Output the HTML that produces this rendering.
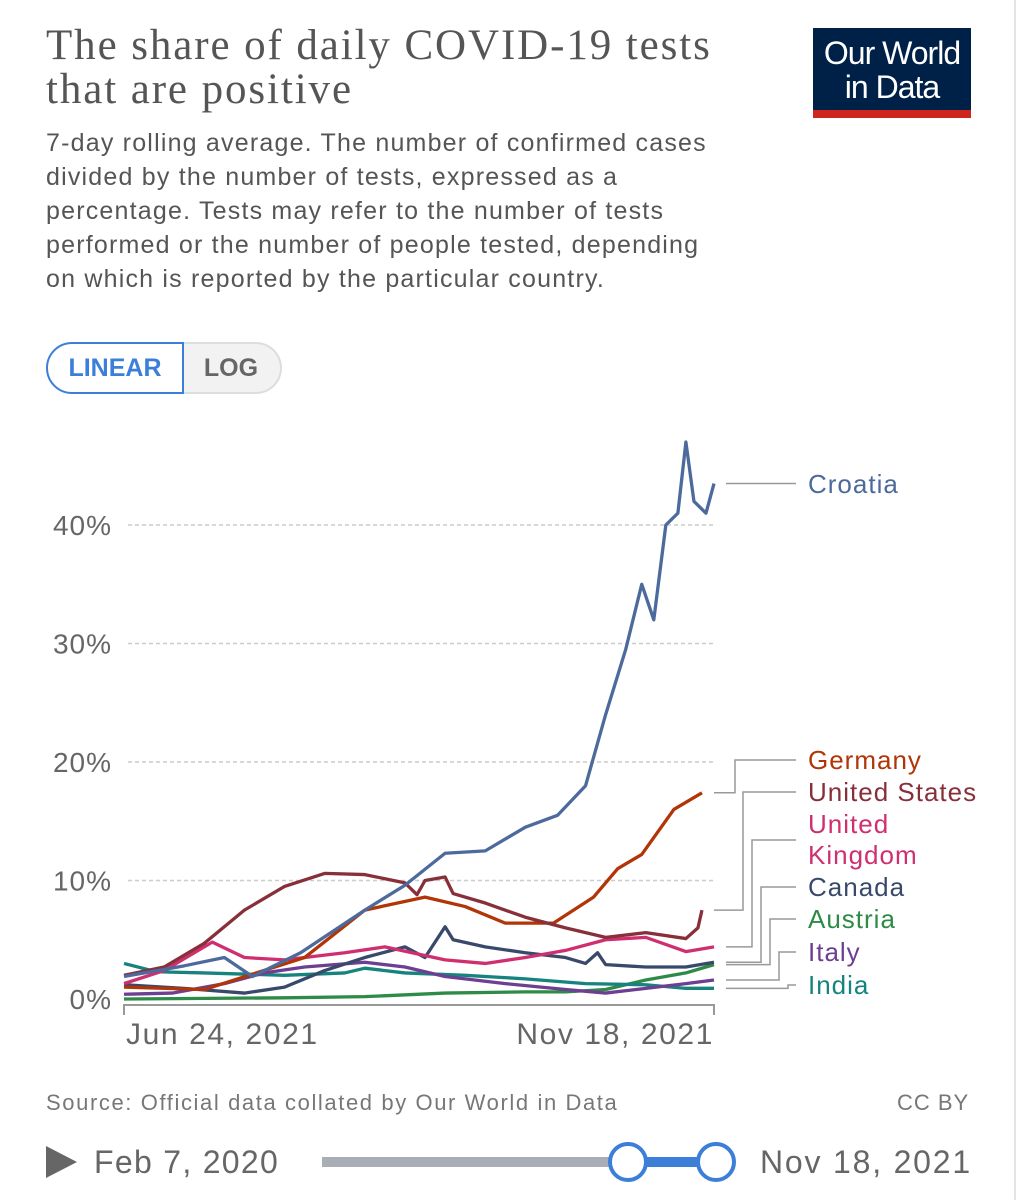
<!DOCTYPE html>
<html><head><meta charset="utf-8"><style>
body{margin:0;background:#fff;width:1016px;height:1200px;overflow:hidden;font-family:"Liberation Sans",sans-serif;position:relative}
.t{position:absolute;white-space:nowrap}
</style></head><body>
<div style="position:absolute;left:0;top:0;width:1014px;height:1200px;border-right:2px solid #e4e4e4"></div>
<div class="t" style="left:46px;top:24px;font-family:'Liberation Serif',serif;font-size:43px;line-height:44px;color:#555;letter-spacing:1.9px">The share of daily COVID-19 tests<br>that are positive</div>
<div style="position:absolute;left:813px;top:28px;width:158px;height:84px;background:#002147;color:#fff;font-size:32px;line-height:34px;text-align:center;padding-top:8px;box-sizing:border-box;letter-spacing:-1px">Our World<br>in Data</div>
<div style="position:absolute;left:813px;top:110px;width:158px;height:8px;background:#ce261e"></div>
<div class="t" style="left:46px;top:126px;font-size:25px;line-height:34px;color:#555;letter-spacing:1.2px">7-day rolling average. The number of confirmed cases<br>divided by the number of tests, expressed as a<br>percentage. Tests may refer to the number of tests<br>performed or the number of people tested, depending<br>on which is reported by the particular country.</div>
<div style="position:absolute;left:46px;top:342px;width:134px;height:48px;border:2px solid #3c7fd8;border-radius:26px 0 0 26px;color:#3c7fd8;font-size:25px;font-weight:bold;line-height:48px;text-align:center;background:#fff;z-index:2">LINEAR</div>
<div style="position:absolute;left:182px;top:342px;width:98px;height:48px;border:2px solid #ddd;border-left:none;border-radius:0 26px 26px 0;color:#666;font-size:25px;font-weight:bold;line-height:48px;text-align:center;background:#f2f2f2">LOG</div>
<svg id="chart" width="1016" height="1200" style="position:absolute;left:0;top:0"></svg>
<div class="t" style="left:46px;top:1090px;font-size:22px;color:#777;letter-spacing:1.6px">Source: Official data collated by Our World in Data</div>
<div class="t" style="left:897px;top:1090px;font-size:22px;color:#777;letter-spacing:1px">CC BY</div>
<svg width="1016" height="60" style="position:absolute;left:0;top:1133px">
<polygon points="46,13 46,45 77,29" fill="#666"/>
<text x="94" y="40" font-size="32" fill="#666" font-family="Liberation Sans" letter-spacing="1.3">Feb 7, 2020</text>
<rect x="322" y="24" width="396" height="10" fill="#a8adb6"/>
<rect x="628" y="24" width="90" height="10" fill="#3c7fd8"/>
<circle cx="628" cy="29" r="18" fill="#fff" stroke="#3c7fd8" stroke-width="4"/>
<circle cx="716" cy="29" r="18" fill="#fff" stroke="#3c7fd8" stroke-width="4"/>
<text x="760" y="40" font-size="32" fill="#666" font-family="Liberation Sans" letter-spacing="1.8">Nov 18, 2021</text>
</svg>
<script>
const yTicks=[0,10,20,30,40];
const xTickLabels=["Jun 24, 2021","Nov 18, 2021"];
const countries=["Croatia","Germany","United States","United Kingdom","Canada","Austria","Italy","India"];
const croatiaDays=[0,15,25,32,44,60,70,80,90,100,108,115,120,125,129,132,135,138,140,142,145,147];
const croatiaVals=[1.9,2.8,3.5,1.9,3.9,7.5,9.6,12.3,12.5,14.5,15.5,18,24,29.5,35,32,40,41,47,42,41,43.5];
const germanyDays=[0,20,45,60,75,85,95,107,117,123,129,137,144];
const germanyVals=[1.0,0.8,3.5,7.5,8.6,7.8,6.4,6.4,8.6,11,12.2,16,17.4];
const usDays=[0,10,20,30,40,50,60,70,73,75,80,82,90,100,110,120,130,140,143,144];
const usVals=[2.0,2.7,4.7,7.5,9.5,10.6,10.5,9.8,8.8,10,10.3,8.9,8.1,6.9,6.0,5.2,5.6,5.1,6.0,7.5];
const ukDays=[0,10,22,30,40,55,65,80,90,100,110,120,130,140,147];
const ukVals=[1.3,2.4,4.8,3.5,3.3,3.9,4.4,3.3,3.0,3.5,4.1,5.0,5.2,4.0,4.4];
const canadaDays=[0,15,30,40,50,60,70,75,80,82,90,100,110,115,118,120,130,140,147];
const canadaVals=[1.2,0.9,0.5,1.0,2.4,3.5,4.4,3.5,6.1,5.0,4.4,3.9,3.5,3.0,3.9,2.9,2.7,2.7,3.1];
const austriaDays=[0,40,60,80,100,110,120,130,140,147];
const austriaVals=[0,0.1,0.2,0.5,0.6,0.6,0.8,1.6,2.2,2.9];
const italyDays=[0,12,25,35,45,60,70,80,95,110,120,130,140,147];
const italyVals=[0.4,0.5,1.3,2.2,2.7,3.1,2.7,1.9,1.3,0.8,0.5,0.9,1.3,1.6];
const indiaDays=[0,8,20,40,55,60,70,85,100,115,130,140,147];
const indiaVals=[3.0,2.3,2.2,2.0,2.2,2.6,2.2,2.0,1.7,1.3,1.2,0.9,0.9];
const colors=["#4c6a9c","#b13507","#883039","#cf2f6f","#38496b","#2d8a47","#6d3e91","#17837e"];
const labelY=[484,760,792,840,887,919,952,985];
const elbowX=[0,735,743,752,761,770,779,788];

const svg=document.getElementById('chart');const NS='http://www.w3.org/2000/svg';
const X=d=>124+d*(590/147);const Y=v=>999-v*11.85;
function mk(t,a){const e=document.createElementNS(NS,t);for(const k in a)e.setAttribute(k,a[k]);svg.appendChild(e);return e;}
yTicks.forEach(v=>{
 if(v>0){const l=mk('line',{x1:128,x2:715,y1:Y(v),y2:Y(v),stroke:'#ccc','stroke-dasharray':'4,3','stroke-width':1.5});
 
 }
 const t=mk('text',{x:112,y:Y(v)+10,'text-anchor':'end','font-size':28,fill:'#666','font-family':'Liberation Sans','letter-spacing':1});t.textContent=v+'%';
 
 
});
const ax=mk('path',{d:'M124,1015 V1005 H714 V1015',fill:'none',stroke:'#999','stroke-width':2});


[[126,'start'],[714,'end']].forEach((p,i)=>{const t=mk('text',{x:p[0],y:1044,'text-anchor':p[1],'font-size':30,fill:'#666','font-family':'Liberation Sans','letter-spacing':1.6});t.textContent=xTickLabels[i];
 
 });
const series=[[croatiaDays,croatiaVals],[germanyDays,germanyVals],[usDays,usVals],[ukDays,ukVals],[canadaDays,canadaVals],[austriaDays,austriaVals],[italyDays,italyVals],[indiaDays,indiaVals]];
const order=[5,7,6,4,3,1,2,0];
order.forEach(i=>{const [ds,vs]=series[i];
 const p=mk('polyline',{points:ds.map((d,j)=>X(d)+','+Y(vs[j])).join(' '),fill:'none',stroke:colors[i],'stroke-width':3.3,'stroke-linejoin':'round'});
 
 
});
series.forEach(([ds,vs],i)=>{
 const ey=Y(vs[vs.length-1]);const sx=X(ds[ds.length-1])+12;
 const d=i==0?`M${sx},${ey} H796`:`M${sx},${ey} H${elbowX[i]} V${labelY[i]} H796`;
 const c=mk('path',{d:d,fill:'none',stroke:'#999','stroke-width':1.5});
 
 
 const t=mk('text',{x:808,y:labelY[i]+9,'font-size':26,fill:colors[i],'font-family':'Liberation Sans','letter-spacing':1});
 
 
 if(countries[i]=="United Kingdom"){t.setAttribute('y',labelY[i]-7);const a=mk('tspan',{x:808});a.textContent='United';t.appendChild(a);const b=mk('tspan',{x:808,dy:31});b.textContent='Kingdom';t.appendChild(b);}
 else t.textContent=countries[i];
});
</script>
</body></html>
